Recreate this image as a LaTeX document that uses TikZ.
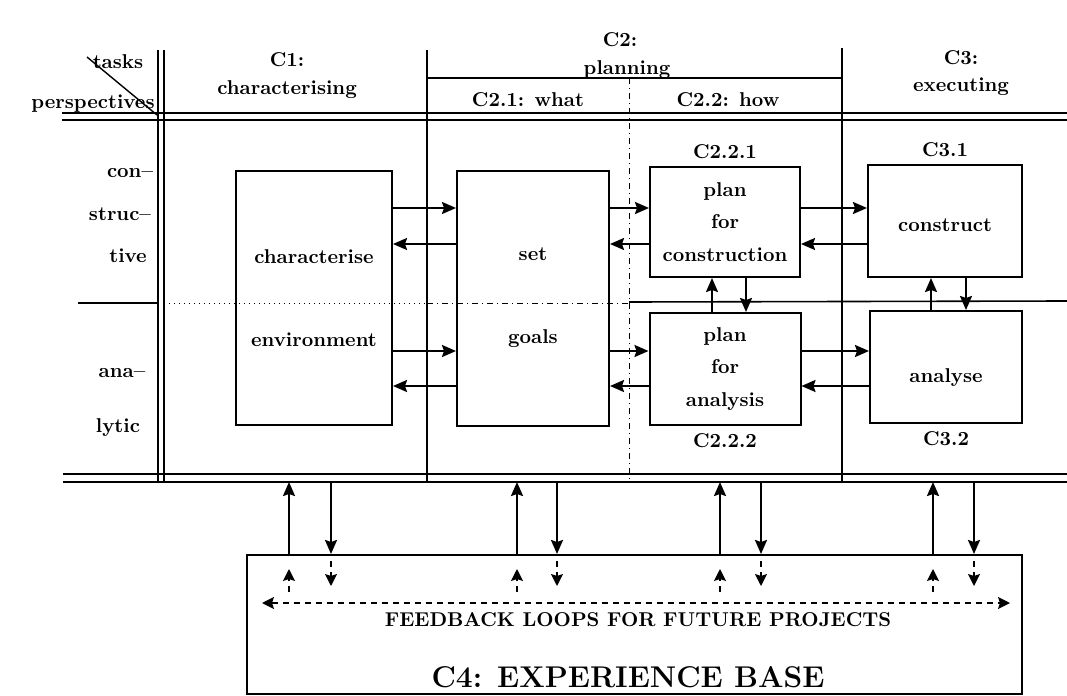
\documentclass[tikz,border=0pt]{standalone}
\usetikzlibrary{arrows.meta,positioning}
\begin{document}
\begin{tikzpicture}[x=0.5pt,y=-0.5pt,
every node/.style={font=\bfseries},
box/.style={draw,line width=1pt,align=center},
rule/.style={line width=0.8pt},
arr/.style={line width=1.1pt,-{Stealth[length=7pt,width=6pt,inset=1pt]}},
fb/.style={line width=0.8pt,dash pattern=on 3pt off 2.5pt}]
\useasboundingbox (0,0) rectangle (1067,696);

% frame of the table
\draw[rule] (62,113) -- (1067,113);
\draw[rule] (62,120) -- (1067,120);
\draw[rule] (63,474) -- (1067,474);
\draw[rule] (63,482) -- (1067,482);
\draw[rule] (158,50) -- (158,482);
\draw[rule] (164,50) -- (164,482);
\draw[rule] (427,50) -- (427,482);
\draw[rule] (842,48) -- (842,482);
\draw[rule] (427,78) -- (842,78);
\draw[line width=0.5pt,dash dot] (629,78) -- (629,482);
\draw[rule] (78,303) -- (158,303);
\draw[line width=0.5pt,dotted] (164,303) -- (427,303);
\draw[line width=0.5pt,dash dot] (427,303) -- (629,303);
\draw[rule] (629,302) -- (1067,301);

% header
\coordinate (dg1) at (87,57);
\coordinate (dg2) at (157,115);
\draw[line width=0.7pt] (dg1) -- (dg2);
\node (tasks) at (118,62) {tasks};
\node (persp) at (93,104) {perspectives};
\node[align=center] (C1) at (287,76) {C1:\\[2pt]characterising};
\node (C2) at (620,40) {C2:};
\node (plng) at (627,70) {planning};
\node (C21) at (528,100) {C2.1: what};
\node (C22) at (728,100) {C2.2: how};
\node[align=center] (C3) at (961,73) {C3:\\[1.5pt]executing};

% perspectives
\node (con) at (130,173) {con--};
\node (struc) at (120,214) {struc--};
\node (tive) at (128,256) {tive};
\node (ana) at (122,373) {ana--};
\node (lytic) at (118,428) {lytic};

% activities
\node[box,minimum width=78pt,minimum height=127pt] (CE) at (314,298) {characterise\\[29.5pt]environment};
\node[box,minimum width=76pt,minimum height=127.5pt] (SG) at (533,298) {set\\[29.5pt]goals};
\node[box,minimum width=75pt,minimum height=55pt] (PC) at (725,222) {plan\\[4.25pt]for\\[4.25pt]construction};
\node[box,minimum width=75.5pt,minimum height=56pt] (PA) at (725,369) {plan\\[4.25pt]for\\[4.25pt]analysis};
\node[box,minimum width=77pt,minimum height=56pt,text height=10.5pt,text depth=0pt] (CO) at (945,221) {construct};
\node[box,minimum width=76pt,minimum height=56pt,text height=17pt,text depth=2pt] (AN) at (946,367) {analyse};
\node[above=0pt of PC] (L221) {C2.2.1};
\node[below=0pt of PA] (L222) {C2.2.2};
\node[above=0pt of CO] (L31) {C3.1};
\node[below=0pt of AN] (L32) {C3.2};

\coordinate (r1) at (0,208);
\coordinate (r2) at (0,244);
\coordinate (r3) at (0,351);
\coordinate (r4) at (0,386);
\draw[arr] (CE.east |- r1) -- (SG.west |- r1);
\draw[arr] (SG.west |- r2) -- (CE.east |- r2);
\draw[arr] (CE.east |- r3) -- (SG.west |- r3);
\draw[arr] (SG.west |- r4) -- (CE.east |- r4);
\draw[arr] (SG.east |- r1) -- (PC.west |- r1);
\draw[arr] (PC.west |- r2) -- (SG.east |- r2);
\draw[arr] (SG.east |- r3) -- (PA.west |- r3);
\draw[arr] (PA.west |- r4) -- (SG.east |- r4);
\draw[arr] (PC.east |- r1) -- (CO.west |- r1);
\draw[arr] (CO.west |- r2) -- (PC.east |- r2);
\draw[arr] (PA.east |- r3) -- (AN.west |- r3);
\draw[arr] (AN.west |- r4) -- (PA.east |- r4);
\draw[arr] (PA.north -| 712,0) -- (PC.south -| 712,0);
\draw[arr] (PC.south -| 746,0) -- (PA.north -| 746,0);
\draw[arr] (AN.north -| 931,0) -- (CO.south -| 931,0);
\draw[arr] (CO.south -| 966,0) -- (AN.north -| 966,0);

% experience base
\node[box,minimum width=387.5pt,minimum height=69.5pt] (C4) at (634.5,624.5) {};
\node (fbtxt) at (638,620) {FEEDBACK LOOPS FOR FUTURE PROJECTS};
\node[font=\bfseries\fontsize{15}{18}\selectfont] (c4txt) at (628,677) {C4: EXPERIENCE BASE};
\coordinate (bot) at (0,482);
\draw[arr] (C4.north -| 289,0) -- (bot -| 289,0);
\draw[arr] (bot -| 331,0) -- (C4.north -| 331,0);
\draw[arr] (C4.north -| 517,0) -- (bot -| 517,0);
\draw[arr] (bot -| 557,0) -- (C4.north -| 557,0);
\draw[arr] (C4.north -| 720,0) -- (bot -| 720,0);
\draw[arr] (bot -| 761,0) -- (C4.north -| 761,0);
\draw[arr] (C4.north -| 933,0) -- (bot -| 933,0);
\draw[arr] (bot -| 974,0) -- (C4.north -| 974,0);

\coordinate (fbL) at (262,603);
\coordinate (fbR) at (1010,603);
\draw[fb,{Stealth[length=6pt,width=6pt,inset=1pt]}-{Stealth[length=6pt,width=6pt,inset=1pt]}] (fbL) -- (fbR);
\draw[fb,-{Stealth[length=6pt,width=6pt,inset=1pt]}] (C4.north -| 289,0) ++(0,38) -- ++(0,-23);
\draw[fb,-{Stealth[length=6pt,width=6pt,inset=1pt]}] (C4.north -| 331,0) ++(0,7) -- ++(0,25);
\draw[fb,-{Stealth[length=6pt,width=6pt,inset=1pt]}] (C4.north -| 517,0) ++(0,38) -- ++(0,-23);
\draw[fb,-{Stealth[length=6pt,width=6pt,inset=1pt]}] (C4.north -| 557,0) ++(0,7) -- ++(0,25);
\draw[fb,-{Stealth[length=6pt,width=6pt,inset=1pt]}] (C4.north -| 720,0) ++(0,38) -- ++(0,-23);
\draw[fb,-{Stealth[length=6pt,width=6pt,inset=1pt]}] (C4.north -| 761,0) ++(0,7) -- ++(0,25);
\draw[fb,-{Stealth[length=6pt,width=6pt,inset=1pt]}] (C4.north -| 933,0) ++(0,38) -- ++(0,-23);
\draw[fb,-{Stealth[length=6pt,width=6pt,inset=1pt]}] (C4.north -| 974,0) ++(0,7) -- ++(0,25);
\end{tikzpicture}
\end{document}
